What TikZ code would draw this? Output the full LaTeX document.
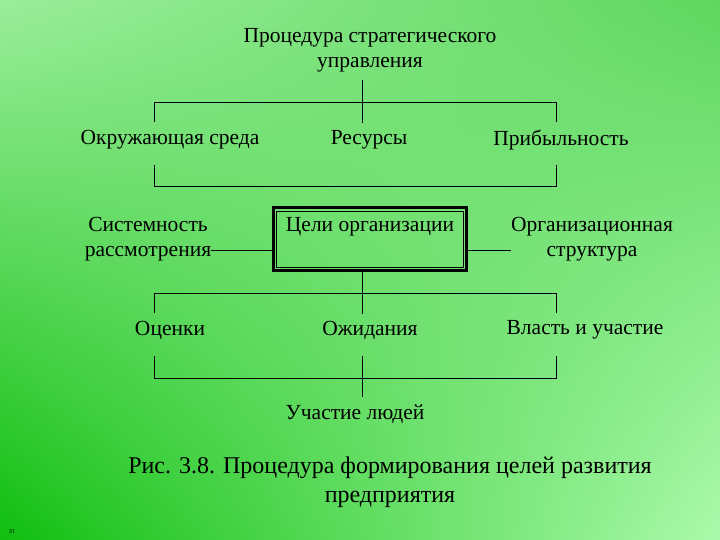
\documentclass[tikz,border=0pt]{standalone}
\usepackage{fontspec}
\setmainfont{Liberation Serif}
\newfontfamily\tnr{Liberation Serif}
\usetikzlibrary{shadings}
\definecolor{gLL}{RGB}{15,190,15}
\definecolor{gUL}{RGB}{155,238,155}
\definecolor{gUR}{RGB}{95,215,95}
\definecolor{gLR}{RGB}{172,250,172}
\begin{document}
\begin{tikzpicture}[x=1pt,y=-1pt,
  lbl/.style={font=\tnr\fontsize{21.5}{25}\selectfont, align=center, inner sep=0pt},
  ln/.style={line width=0.9pt, draw=black}]
\useasboundingbox (0,0) rectangle (720,540);
\shade[lower left=gLL, upper left=gUL, upper right=gUR, lower right=gLR]
  (0,540) rectangle (720,0);
% texts
\node[lbl] (title) at (370,50) {Процедура стратегического\\управления};
\node[lbl] (env) at (170,140) {Окружающая среда};
\node[lbl] (res) at (369,140) {Ресурсы};
\node[lbl] (prof) at (561,140) {Прибыльность};
\node[lbl] (sys) at (148,239) {Системность\\рассмотрения};
\node[lbl] (goal) at (370,227) {Цели организации};
\node[lbl] (org) at (592,239) {Организационная\\структура};
\node[lbl] (est) at (170,330) {Оценки};
\node[lbl] (exp) at (370,330) {Ожидания};
\node[lbl] (pow) at (585,330) {Власть и участие};
\node[lbl] (ppl) at (355,414) {Участие людей};
\node[lbl, font=\tnr\fontsize{24}{29}\selectfont] (cap) at (390,482) {Рис. 3.8. Процедура формирования целей развития\\предприятия};
\node[inner sep=0pt, font=\tnr\fontsize{6}{7}\selectfont] (num) at (12,532) {31};
% box
\node[draw, line width=3pt, minimum width=193, minimum height=62, inner sep=0pt] (box) at (369.5,239) {};
\draw[line width=0.8pt] (276,211) rectangle (463,267);
% brackets
\coordinate (t1) at (362,80);
\draw[ln] (t1) -- (362,123);
\draw[ln] (154,122) -- (154,102) -- (556,102) -- (556,122);
\draw[ln] (154,165) -- (154,186) -- (556,186) -- (556,165);
\draw[ln] (box.west) ++(0,11) -- (211,250);
\draw[ln] (box.east) ++(0,11) -- (511,250);
\draw[ln] (box.south -| t1) -- (362,314);
\draw[ln] (154,313) -- (154,293) -- (556,293) -- (556,313);
\draw[ln] (154,356) -- (154,378) -- (556,378) -- (556,356);
\draw[ln] (362,356) -- (362,397);
\end{tikzpicture}
\end{document}
